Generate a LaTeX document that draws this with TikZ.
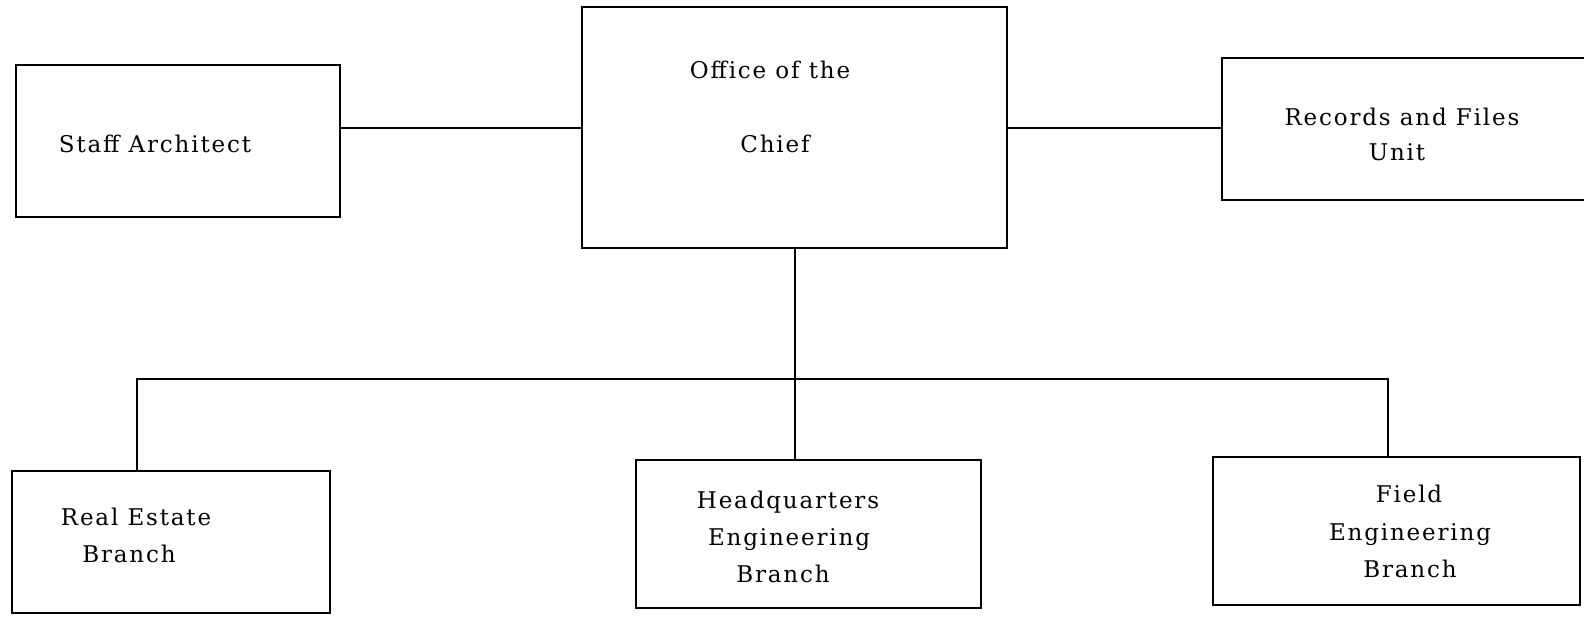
\documentclass[tikz,border=0pt]{standalone}
\usepackage{fontspec}
\usetikzlibrary{fit}
\newfontfamily\lblfam{DejaVu Serif}[LetterSpace=8]
\newcommand{\lblfont}{\lblfam\fontsize{11.5}{14}\selectfont}
\begin{document}
\begin{tikzpicture}[x=0.5pt,y=-0.5pt,
  box/.style={draw, line width=1.2pt, rectangle, inner sep=0pt},
  lbl/.style={font=\lblfont, anchor=base, inner sep=0pt},
  conn/.style={line width=1pt}]
\useasboundingbox (0,0) rectangle (1584,617);
% boxes
\node[box, fit={(16,65) (340,217)}] (staff) {};
\node[box, fit={(582,7) (1007,248)}] (chief) {};
\node[box, fit={(1222,58) (1640,200)}] (rec) {};
\node[box, fit={(12,471) (330,613)}] (real) {};
\node[box, fit={(636,460) (981,608)}] (hq) {};
\node[box, fit={(1213,457) (1580,605)}] (field) {};
% texts
\node[lbl] (tstaff) at (155,152) {Staff Architect};
\node[lbl] (tchief1) at (770,78) {Office of the};
\node[lbl] (tchief2) at (775,152) {Chief};
\node[lbl] (trec1) at (1402,125) {Records and Files};
\node[lbl] (trec2) at (1397,160) {Unit};
\node[lbl] (treal1) at (136,525) {Real Estate};
\node[lbl] (treal2) at (129,562) {Branch};
\node[lbl] (thq1) at (788,508) {Headquarters};
\node[lbl] (thq2) at (789,545) {Engineering};
\node[lbl] (thq3) at (783,582) {Branch};
\node[lbl] (tfield1) at (1409,502) {Field};
\node[lbl] (tfield2) at (1410,540) {Engineering};
\node[lbl] (tfield3) at (1410,577) {Branch};
% connectors
\coordinate (busL) at (137,379);
\coordinate (busR) at (1388,379);
\draw[conn] (chief.west) -- (chief.west -| staff.east);
\draw[conn] (chief.east) -- (chief.east -| rec.west);
\draw[conn] (chief.south) -- (chief.south |- hq.north);
\draw[conn] (busL |- real.north) -- (busL) -- (busR) -- (busR |- field.north);
\end{tikzpicture}
\end{document}
